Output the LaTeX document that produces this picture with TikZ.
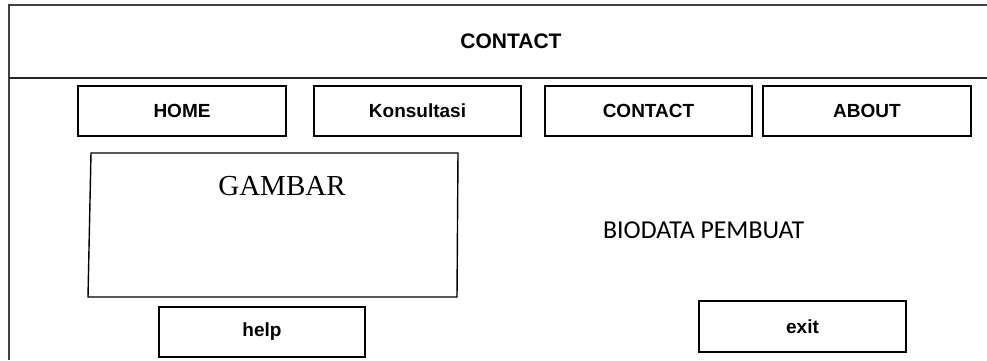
\documentclass[tikz,border=0pt]{standalone}
\usepackage{fontspec}
\newfontfamily\uisans{Liberation Sans}
\newfontfamily\uiserif{Liberation Serif}
\newfontfamily\uibody{Carlito}
\begin{document}
\begin{tikzpicture}[x=1pt,y=-1pt,
  frameline/.style={draw=black!75,line width=1.3pt},
  divline/.style={draw=black!85,line width=1.8pt},
  btn/.style={draw=black,line width=1.8pt,minimum width=#1,minimum height=50pt,inner sep=0pt,
    font=\uisans\bfseries\fontsize{19}{22}\selectfont},
  btn/.default=207pt]
\useasboundingbox (0,0) rectangle (987,360);
% page frame and header divider
\coordinate (tl) at (9,5);
\coordinate (tr) at (987,5);
\coordinate (bl) at (9,360);
\coordinate (dl) at (9,78);
\coordinate (dr) at (987,78);
\draw[frameline] (bl) -- (tl) -- (tr);
\draw[divline] (dl) -- (dr);
% page title
\node[font=\uisans\bfseries\fontsize{21}{24}\selectfont] (title) at (511,41) {CONTACT};
% navigation menu
\node[btn=208pt] (home) at (182,111) {HOME};
\node[btn] (kons) at (417.5,111) {Konsultasi};
\node[btn] (cont) at (648.5,111) {CONTACT};
\node[btn=208pt] (about) at (867,111) {ABOUT};
% picture placeholder
\coordinate (g1) at (91,153);
\coordinate (g2) at (458,153);
\coordinate (g3) at (457,297);
\coordinate (g4) at (88,297);
\draw[line width=1.4pt] (g1) -- (g2) -- (g3) -- (g4) -- cycle;
\node[anchor=base,inner sep=0pt,font=\uiserif\fontsize{29}{32}\selectfont] (gambar) at (282,195) {GAMBAR};
% author info
\node[anchor=base west,inner sep=0pt,font=\uibody\fontsize{25.8}{28}\selectfont] (bio) at (603,238) {BIODATA PEMBUAT};
% bottom buttons
\node[btn=206pt] (help) at (262,332) {help};
\node[btn,minimum height=51pt] (exit) at (802.5,326.5) {exit};
\end{tikzpicture}
\end{document}
